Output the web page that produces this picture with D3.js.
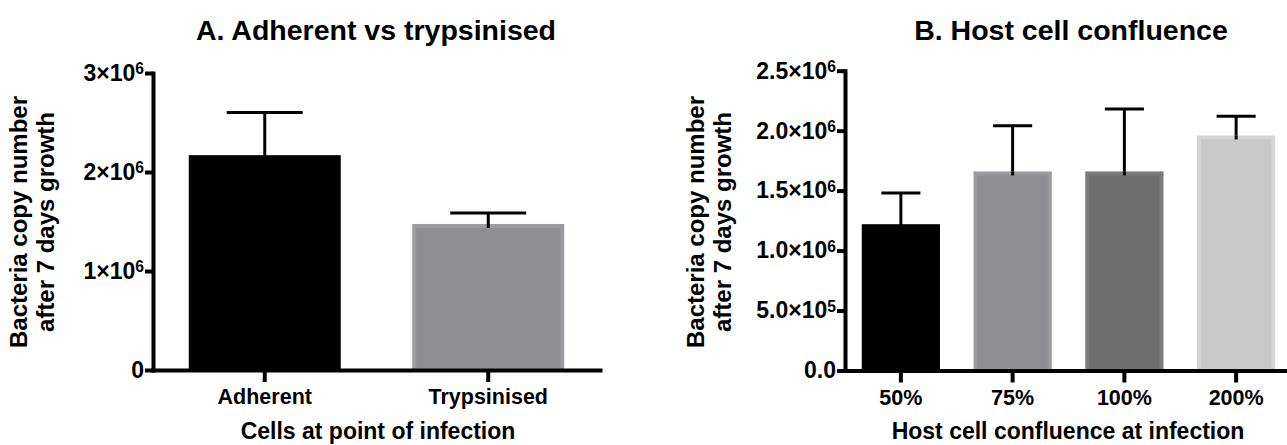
<!DOCTYPE html>
<html>
<head>
<meta charset="utf-8">
<script src="https://cdn.jsdelivr.net/npm/d3@7"></script>
<style>
  body { margin: 0; background: #fff; }
  svg { display: block; }
  text { font-family: "Liberation Sans", Arial, Helvetica, sans-serif; font-weight: bold; fill: #000; }
</style>
</head>
<body>
<svg id="chart" width="1287" height="445"></svg>
<script>
// Panel A: adherent vs trypsinised host cells
const adherenceGroups = ["Adherent", "Trypsinised"];
const adherenceMeans = [2.17e6, 1.475e6];
const adherenceErrors = [0.43e6, 0.11e6];
const adherenceTicks = [0, 1e6, 2e6, 3e6];
const adherenceTickLabels = ["0", "1×10^6", "2×10^6", "3×10^6"];

// Panel B: host cell confluence at infection
const confluenceGroups = ["50%", "75%", "100%", "200%"];
const confluenceMeans = [1.22e6, 1.66e6, 1.66e6, 1.96e6];
const confluenceErrors = [0.26e6, 0.38e6, 0.52e6, 0.16e6];
const confluenceTicks = [0, 5e5, 1e6, 1.5e6, 2e6, 2.5e6];
const confluenceTickLabels = ["0.0", "5.0×10^5", "1.0×10^6", "1.5×10^6", "2.0×10^6", "2.5×10^6"];

const yTitleLines = ["Bacteria copy number", "after 7 days growth"];

const svg = d3.select("#chart");

function drawPanel(cfg) {
  const g = svg.append("g");
  const x = d3.scaleBand()
    .domain(cfg.groups)
    .range([cfg.left, cfg.right])
    .paddingInner(cfg.padInner)
    .paddingOuter(cfg.padInner / 2);
  const y = d3.scaleLinear()
    .domain([0, cfg.yMax])
    .range([cfg.bottom, cfg.top]);

  const rows = cfg.groups.map((k, i) => ({
    key: k, mean: cfg.means[i], err: cfg.errors[i],
    fill: cfg.fills[i], edge: cfg.edges[i]
  }));

  // error bars (upper only), drawn beneath the bars
  const eb = g.append("g").attr("stroke", "#000").attr("stroke-width", 3);
  rows.forEach(d => {
    const cx = x(d.key) + x.bandwidth() / 2;
    const half = x.bandwidth() / 4;
    eb.append("line")
      .attr("x1", cx).attr("x2", cx)
      .attr("y1", y(d.mean) + 4).attr("y2", y(d.mean + d.err));
    eb.append("line")
      .attr("x1", cx - half).attr("x2", cx + half)
      .attr("y1", y(d.mean + d.err)).attr("y2", y(d.mean + d.err));
  });

  // bars with a thin lighter edge
  g.append("g").selectAll("rect")
    .data(rows)
    .join("rect")
    .attr("x", d => x(d.key) + 2)
    .attr("y", d => y(d.mean) + 2)
    .attr("width", x.bandwidth() - 4)
    .attr("height", d => y(0) - y(d.mean) - 2)
    .attr("fill", d => d.fill)
    .attr("stroke", d => d.edge)
    .attr("stroke-width", 4);

  // redraw the part of the error stem that sits on the bar edge
  rows.forEach(d => {
    const cx = x(d.key) + x.bandwidth() / 2;
    g.append("line")
      .attr("stroke", "#000").attr("stroke-width", 3)
      .attr("x1", cx).attr("x2", cx)
      .attr("y1", y(d.mean) + 4).attr("y2", y(d.mean));
  });

  // y axis
  const yAxis = g.append("g")
    .attr("transform", `translate(${cfg.left},0)`)
    .call(d3.axisLeft(y).tickValues(cfg.ticks).tickSize(8).tickSizeOuter(0).tickPadding(1).tickFormat(() => ""));
  yAxis.select(".domain").attr("stroke-width", 4).attr("stroke-linecap", "square");
  yAxis.selectAll(".tick line").attr("stroke-width", 4);
  yAxis.selectAll(".tick text")
    .attr("font-size", cfg.tickFont)
    .attr("font-family", null)
    .each(function (d, i) {
      const parts = cfg.tickLabels[i].split("^");
      const t = d3.select(this);
      t.append("tspan").text(parts[0]);
      if (parts[1]) {
        t.append("tspan").attr("dy", "-0.42em").attr("font-size", "0.68em").text(parts[1]);
      }
    });

  // x axis
  const xAxis = g.append("g")
    .attr("transform", `translate(0,${y(0)})`)
    .call(d3.axisBottom(x).tickSize(12).tickSizeOuter(0).tickPadding(7));
  xAxis.select(".domain").attr("stroke-width", 4).attr("stroke-linecap", "square");
  xAxis.selectAll(".tick line").attr("stroke-width", 4);
  xAxis.selectAll(".tick text").attr("font-size", cfg.xTickFont).attr("font-family", null);

  // titles
  g.append("text")
    .attr("x", cfg.titleX).attr("y", 40)
    .attr("text-anchor", "middle")
    .attr("font-size", 28.5)
    .text(cfg.title);

  g.append("text")
    .attr("x", cfg.xTitleX).attr("y", 439)
    .attr("text-anchor", "middle")
    .attr("font-size", 23)
    .text(cfg.xTitle);

  const yt = g.append("text")
    .attr("transform", `translate(${cfg.yTitleX},${cfg.yTitleY}) rotate(-90)`)
    .attr("text-anchor", "middle")
    .attr("font-size", 24);
  yTitleLines.forEach((line, i) => {
    yt.append("tspan").attr("x", 0).attr("y", i * 27).text(line);
  });
}

drawPanel({
  groups: adherenceGroups, means: adherenceMeans, errors: adherenceErrors,
  ticks: adherenceTicks, tickLabels: adherenceTickLabels,
  fills: ["#000000", "#8e8d92"], edges: ["#000000", "#9c9ca0"],
  left: 153, right: 600, top: 73, bottom: 370, yMax: 3e6, padInner: 0.32,
  tickFont: 23, xTickFont: 21.5,
  title: "A. Adherent vs trypsinised", titleX: 376,
  xTitle: "Cells at point of infection", xTitleX: 378,
  yTitleX: 27, yTitleY: 222
});

drawPanel({
  groups: confluenceGroups, means: confluenceMeans, errors: confluenceErrors,
  ticks: confluenceTicks, tickLabels: confluenceTickLabels,
  fills: ["#000000", "#8e8d92", "#6e6e6e", "#c9c9c9"], edges: ["#000000", "#9b9b9f", "#7b7b7b", "#d4d4d4"],
  left: 845, right: 1292, top: 70.7, bottom: 370.5, yMax: 2.5e6, padInner: 0.30,
  tickFont: 23, xTickFont: 21.5,
  title: "B. Host cell confluence", titleX: 1071,
  xTitle: "Host cell confluence at infection", xTitleX: 1068,
  yTitleX: 704, yTitleY: 222
});
</script>
</body>
</html>
